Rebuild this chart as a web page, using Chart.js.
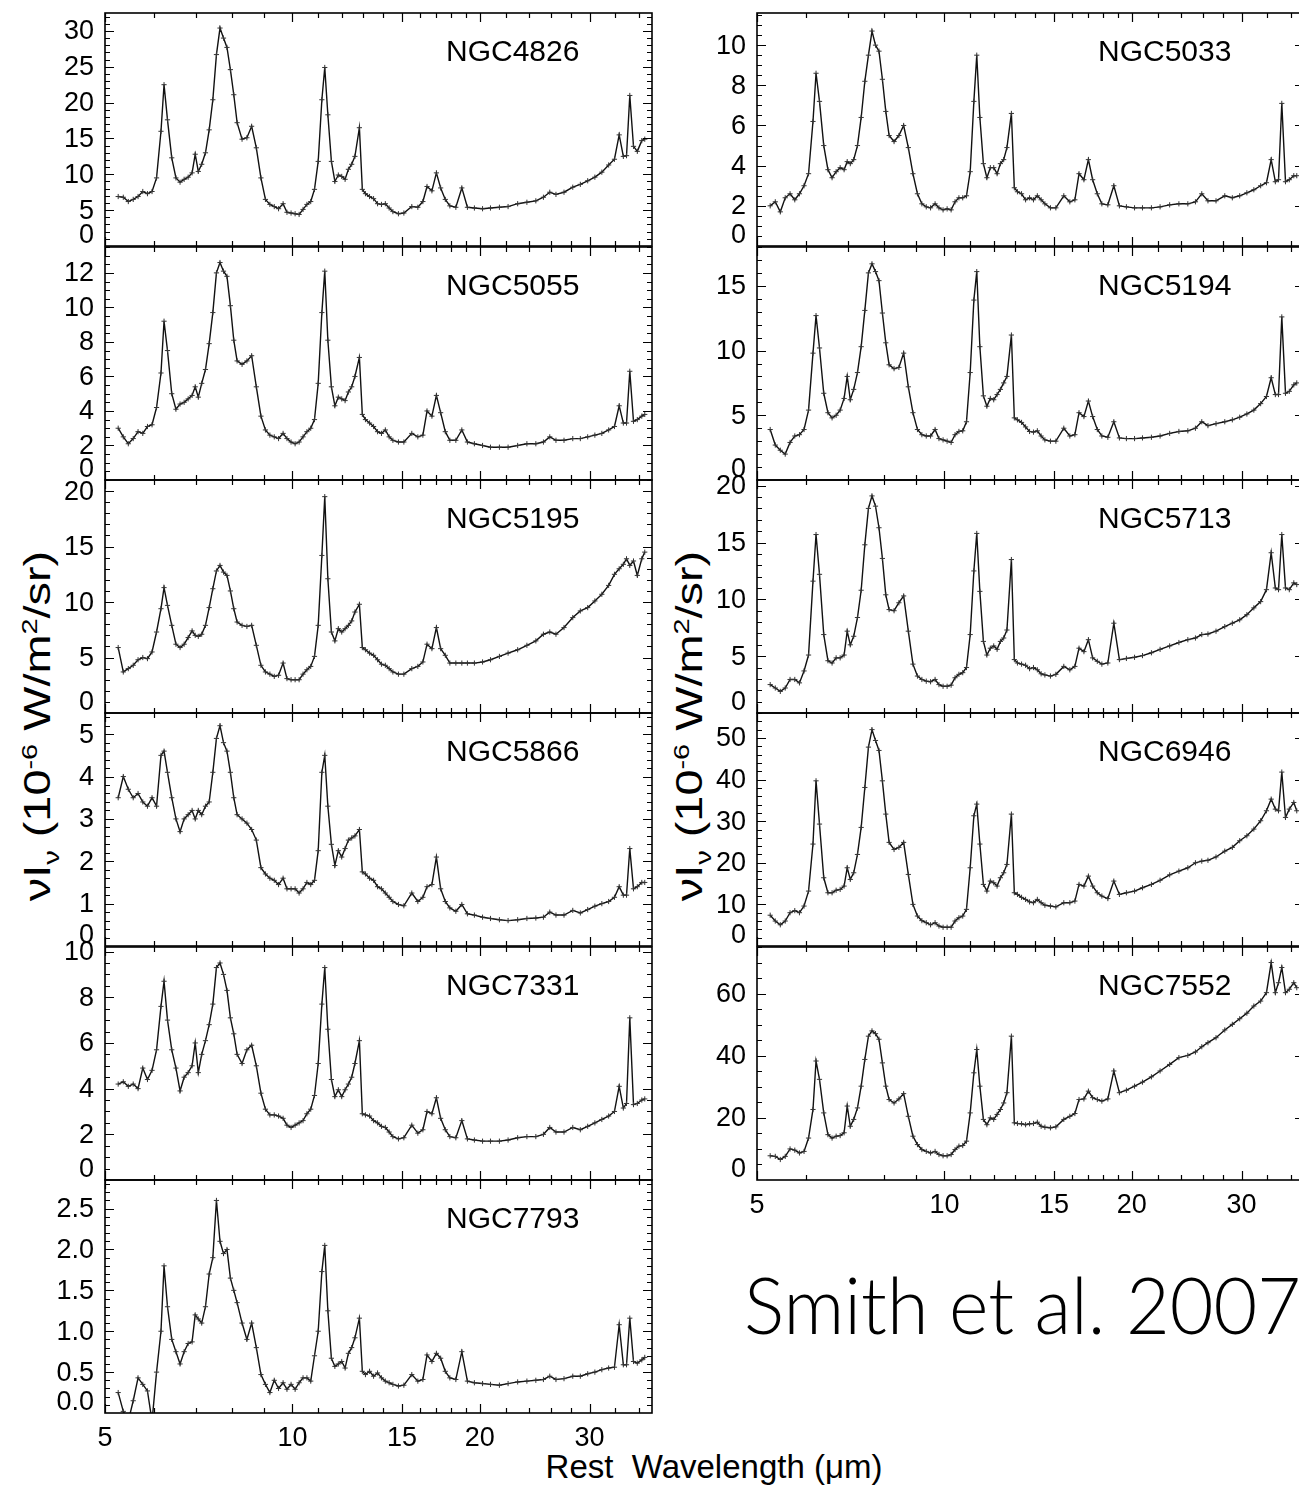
<!DOCTYPE html>
<html>
<head>
<meta charset="utf-8">
<script src="https://cdn.jsdelivr.net/npm/chart.js@4.4.0/dist/chart.umd.min.js"></script>
<style>
  body { margin: 0; background: #fff; width: 1299px; height: 1488px; position: relative; overflow: hidden;
         font-family: "Liberation Sans", Arial, sans-serif; color: #000; }
  canvas.panel { position: absolute; }
  .ytitle { position: absolute; white-space: nowrap; font-size: 36px;
            transform: translate(-50%, -50%) rotate(-90deg) scaleX(1.3); }
  .ytitle sub, .ytitle sup { font-size: 0.62em; }
  .xtitle { position: absolute; white-space: nowrap; font-size: 33px; transform: translateX(-50%); }
  .cite { position: absolute; white-space: nowrap; font-family: Lato, "Open Sans", sans-serif; font-weight: 300;
          font-size: 78px; line-height: 1; transform: scaleX(0.968); transform-origin: left top; }
</style>
</head>
<body>
<div class="ytitle" style="left:41px; top:726px;">νI<sub>ν</sub> (10<sup>-6</sup> W/m<sup>2</sup>/sr)</div>
<div class="ytitle" style="left:693px; top:726px;">νI<sub>ν</sub> (10<sup>-6</sup> W/m<sup>2</sup>/sr)</div>
<div class="xtitle" style="left:714px; top:1448px;">Rest&nbsp; Wavelength (μm)</div>
<div class="cite" style="left:744px; top:1265px;">Smith et al. 2007</div>

<script>
// ---- shared wavelength grid (micron) ----
const wave = [5.25, 5.35, 5.45, 5.55, 5.65, 5.75, 5.85, 5.95, 6.05, 6.15,
  6.22, 6.3, 6.4, 6.5, 6.6, 6.7, 6.8, 6.9, 6.98, 7.06,
  7.15, 7.25, 7.35, 7.45, 7.55, 7.65, 7.75, 7.85, 7.95, 8.05,
  8.15, 8.3, 8.45, 8.6, 8.75, 8.9, 9.05, 9.2, 9.35, 9.5,
  9.66, 9.8, 9.95, 10.1, 10.25, 10.4, 10.55, 10.7, 10.85, 11.0,
  11.15, 11.27, 11.4, 11.55, 11.7, 11.85, 12.0, 12.15, 12.3, 12.45,
  12.6, 12.81, 12.95, 13.1, 13.3, 13.5, 13.7, 13.9, 14.1, 14.3,
  14.5, 14.8, 15.1, 15.55, 15.9, 16.2, 16.45, 16.75, 17.03, 17.3,
  17.6, 17.9, 18.3, 18.71, 19.1, 19.6, 20.2, 20.8, 21.5, 22.2,
  23.0, 23.8, 24.6, 25.3, 25.9, 26.5, 27.3, 28.2, 29.0, 29.8,
  30.6, 31.4, 32.2, 32.9, 33.48, 34.0, 34.4, 34.82, 35.3, 35.8,
  36.4, 36.8];

// ---- spectra, nu I_nu in 1e-6 W/m2/sr ----
const ngc4826 = [6.9, 6.8, 6.2, 6.5, 6.9, 7.6, 7.3, 7.6, 9.5, 16,
  22.5, 17.6, 12.3, 9.5, 8.9, 9.3, 9.6, 10.2, 12.8, 10.4,
  11.4, 13, 16.2, 20.4, 26.7, 30.4, 29, 27.7, 24.6, 21.1,
  17.2, 14.9, 15.1, 16.7, 13.7, 9.5, 6.5, 5.8, 5.5, 5.2,
  5.9, 4.7, 4.6, 4.5, 4.4, 5.1, 5.8, 6.2, 7.9, 11.8,
  20.4, 24.9, 18.3, 11.8, 9.0, 9.9, 9.7, 9.3, 10.7, 11.4,
  12.5, 16.5, 7.9, 7.3, 6.9, 6.6, 5.9, 5.8, 5.9, 5.3,
  4.8, 4.5, 4.6, 5.5, 5.4, 6.2, 8.3, 7.7, 10.2, 8.1,
  6.5, 5.6, 5.4, 8.1, 5.4, 5.3, 5.2, 5.3, 5.4, 5.5,
  5.9, 6.1, 6.3, 6.8, 7.5, 7.2, 7.5, 8.2, 8.6, 9.1,
  9.6, 10.3, 11.3, 12.1, 15.5, 12.5, 12.6, 21, 13.9, 13.2,
  14.7, 14.9];

const ngc5055 = [3.0, 2.5, 2.1, 2.4, 2.8, 2.7, 3.1, 3.2, 4.2, 6.2,
  9.2, 7.5, 5.0, 4.1, 4.4, 4.5, 4.7, 4.9, 5.4, 4.8,
  5.6, 6.4, 7.9, 9.7, 12.0, 12.6, 12.1, 11.8, 10.1, 8.1,
  6.9, 6.7, 6.9, 7.2, 5.4, 3.7, 2.9, 2.6, 2.5, 2.4,
  2.7, 2.4, 2.2, 2.1, 2.2, 2.5, 2.8, 3.0, 3.5, 5.6,
  9.7, 12.1, 8.1, 5.4, 4.3, 4.8, 4.7, 4.6, 5.1, 5.4,
  6.0, 7.1, 3.8, 3.5, 3.3, 3.1, 2.8, 2.7, 2.9, 2.5,
  2.3, 2.2, 2.2, 2.7, 2.5, 2.6, 4.0, 3.7, 4.9, 3.9,
  2.8, 2.3, 2.3, 2.9, 2.2, 2.1, 2.0, 1.9, 1.9, 1.9,
  2.0, 2.1, 2.1, 2.2, 2.5, 2.3, 2.3, 2.4, 2.4, 2.5,
  2.6, 2.7, 2.9, 3.1, 4.3, 3.3, 3.3, 6.3, 3.4, 3.5,
  3.7, 3.8];

const ngc5195 = [5.9, 3.7, 4.0, 4.3, 4.8, 5.0, 4.9, 5.5, 7.3, 9.4,
  11.3, 9.7, 7.9, 6.2, 5.9, 6.2, 6.8, 7.4, 7.0, 6.9,
  7.1, 7.9, 9.5, 11.2, 12.8, 13.3, 12.7, 12.4, 11.0, 9.4,
  8.2, 7.9, 7.8, 7.9, 6.1, 4.3, 3.7, 3.5, 3.3, 3.4,
  4.5, 3.1, 3.0, 3.0, 3.0, 3.5, 3.9, 4.2, 5.1, 7.9,
  14.2, 19.5, 12.1, 7.3, 6.5, 7.6, 7.3, 7.6, 7.9, 8.3,
  9.1, 9.8, 5.9, 5.7, 5.4, 5.2, 4.8, 4.4, 4.3, 4.0,
  3.7, 3.5, 3.5, 4.0, 4.2, 4.6, 6.2, 5.8, 7.7, 5.8,
  5.2, 4.5, 4.5, 4.5, 4.5, 4.5, 4.6, 4.8, 5.1, 5.4,
  5.7, 6.1, 6.5, 7.1, 7.3, 7.1, 7.7, 8.6, 9.2, 9.5,
  10.1, 10.7, 11.5, 12.5, 13.0, 13.4, 13.9, 13.3, 13.7, 12.4,
  13.9, 14.5];

const ngc5866 = [3.5, 4.0, 3.7, 3.5, 3.6, 3.4, 3.3, 3.5, 3.3, 4.5,
  4.6, 4.1, 3.5, 3.0, 2.7, 3.0, 3.1, 3.2, 3.0, 3.2,
  3.1, 3.3, 3.4, 4.1, 4.9, 5.2, 4.8, 4.6, 4.1, 3.5,
  3.1, 3.0, 2.9, 2.75, 2.5, 1.85, 1.7, 1.6, 1.55, 1.45,
  1.6, 1.35, 1.35, 1.35, 1.25, 1.35, 1.5, 1.45, 1.55, 2.25,
  4.1, 4.5, 3.3, 2.4, 1.9, 2.25, 2.1, 2.3, 2.5, 2.55,
  2.6, 2.75, 1.75, 1.7, 1.6, 1.55, 1.4, 1.35, 1.25, 1.15,
  1.05, 0.98, 0.95, 1.25, 1.05, 1.15, 1.4, 1.45, 2.1, 1.35,
  1.05, 0.9, 0.82, 0.98, 0.76, 0.73, 0.68, 0.65, 0.62, 0.6,
  0.62, 0.65, 0.66, 0.68, 0.8, 0.73, 0.73, 0.84, 0.78, 0.86,
  0.94, 1.0, 1.05, 1.15, 1.4, 1.2, 1.2, 2.3, 1.35, 1.4,
  1.5, 1.5];

const ngc7331 = [4.2, 4.3, 4.1, 4.2, 4.0, 4.9, 4.4, 4.8, 5.7, 7.6,
  8.7, 7.0, 5.7, 4.9, 3.9, 4.5, 4.7, 5.0, 6.0, 4.7,
  5.5, 6.1, 6.8, 7.7, 9.3, 9.5, 9.0, 8.3, 7.1, 6.4,
  5.5, 5.1, 5.7, 5.9, 5.0, 3.8, 3.1, 2.85, 2.85, 2.8,
  2.7, 2.4, 2.3, 2.4, 2.5, 2.6, 2.9, 3.1, 3.7, 5.1,
  7.7, 9.3, 6.6, 4.4, 3.65, 3.95, 3.65, 3.95, 4.2, 4.5,
  5.1, 6.1, 2.9, 2.85, 2.8, 2.6, 2.5, 2.35, 2.3, 2.1,
  1.9, 1.8, 1.85, 2.4, 2.05, 2.2, 3.0, 2.9, 3.6, 2.7,
  2.2, 1.9, 1.85, 2.6, 1.8, 1.75, 1.7, 1.7, 1.7, 1.75,
  1.85, 1.9, 1.9, 2.0, 2.3, 2.1, 2.1, 2.3, 2.2, 2.35,
  2.5, 2.65, 2.8, 3.0, 4.1, 3.15, 3.35, 7.1, 3.3, 3.35,
  3.5, 3.55];

const ngc7793 = [0.25, 0.02, -0.1, 0.15, 0.43, 0.35, 0.27, -0.1, 0.5, 1.0,
  1.8, 1.3, 0.9, 0.75, 0.6, 0.75, 0.85, 0.87, 1.2, 1.15,
  1.1, 1.3, 1.7, 1.9, 2.6, 2.1, 1.95, 2.0, 1.65, 1.5,
  1.35, 1.1, 0.9, 1.1, 0.8, 0.47, 0.35, 0.25, 0.4, 0.3,
  0.37, 0.29, 0.35, 0.29, 0.37, 0.43, 0.43, 0.39, 0.7, 1.0,
  1.73, 2.05, 1.25, 0.67, 0.57, 0.6, 0.63, 0.55, 0.73, 0.8,
  0.92, 1.16, 0.51, 0.47, 0.51, 0.45, 0.49, 0.43, 0.39, 0.37,
  0.35, 0.33, 0.34, 0.47, 0.39, 0.41, 0.71, 0.63, 0.73, 0.67,
  0.51, 0.43, 0.41, 0.75, 0.39, 0.37, 0.36, 0.35, 0.34, 0.36,
  0.38, 0.39, 0.4, 0.41, 0.45, 0.41, 0.42, 0.45, 0.45, 0.48,
  0.5, 0.53, 0.55, 0.56, 1.08, 0.59, 0.59, 1.16, 0.63, 0.61,
  0.65, 0.68];

const ngc5033 = [2.0, 2.2, 1.7, 2.4, 2.6, 2.3, 2.6, 3.0, 3.6, 6.2,
  8.6, 7.2, 5.0, 3.8, 3.4, 3.7, 3.9, 3.8, 4.2, 4.1,
  4.3, 5.0, 6.4, 8.2, 9.5, 10.7, 10.0, 9.7, 8.3, 6.7,
  5.5, 5.2, 5.5, 6.0, 4.9, 3.6, 2.6, 2.1, 1.95, 1.9,
  2.1, 1.9, 1.8, 1.85, 1.8, 2.2, 2.4, 2.4, 2.5, 3.7,
  7.2, 9.5, 6.4, 4.1, 3.4, 3.9, 3.9, 3.6, 4.1, 4.3,
  4.9, 6.6, 2.9, 2.7, 2.6, 2.3, 2.4, 2.3, 2.5, 2.3,
  2.1, 1.9, 1.9, 2.5, 2.2, 2.3, 3.6, 3.3, 4.3, 3.3,
  2.6, 2.1, 2.05, 3.0, 2.0, 1.95, 1.9, 1.9, 1.9, 1.95,
  2.05, 2.1, 2.1, 2.2, 2.6, 2.25, 2.25, 2.5, 2.4, 2.5,
  2.65, 2.8, 3.0, 3.15, 4.3, 3.2, 3.3, 7.1, 3.2, 3.3,
  3.5, 3.5];

const ngc5194 = [3.9, 2.7, 2.3, 2.0, 2.9, 3.4, 3.5, 3.9, 5.4, 9.8,
  12.7, 10.2, 6.7, 5.2, 4.8, 5.0, 5.4, 6.3, 8.0, 6.2,
  7.0, 8.3, 10.3, 13.1, 16.0, 16.7, 16.1, 15.4, 12.9, 10.6,
  8.9, 8.6, 8.7, 9.8, 7.2, 5.2, 3.9, 3.5, 3.4, 3.4,
  3.9, 3.2, 3.1, 3.0, 2.9, 3.5, 3.75, 3.8, 4.5, 8.3,
  13.9, 16.1, 10.3, 6.5, 5.7, 6.3, 6.2, 6.6, 7.0, 7.5,
  8.0, 11.2, 4.8, 4.65, 4.45, 4.1, 3.75, 3.7, 3.8, 3.4,
  3.1, 3.0, 3.0, 4.0, 3.4, 3.5, 5.2, 4.9, 6.1, 4.9,
  3.9, 3.4, 3.3, 4.5, 3.25, 3.2, 3.2, 3.25, 3.3, 3.4,
  3.6, 3.75, 3.8, 4.0, 4.5, 4.2, 4.35, 4.5, 4.65, 4.85,
  5.1, 5.4, 5.9, 6.45, 7.9, 6.6, 6.6, 12.6, 6.7, 6.85,
  7.35, 7.5];

const ngc5713 = [2.5, 2.2, 1.9, 2.2, 2.95, 2.95, 2.65, 3.7, 5.1, 11.6,
  15.7, 12.2, 6.9, 4.6, 4.4, 4.85, 4.85, 5.1, 7.2, 6.0,
  6.75, 8.4, 10.8, 14.8, 18.0, 19.1, 18.2, 16.3, 13.6, 10.4,
  9.1, 9.0, 9.7, 10.3, 7.2, 4.3, 3.25, 2.95, 2.8, 2.75,
  2.95, 2.5, 2.35, 2.35, 2.45, 3.1, 3.4, 3.55, 4.0, 6.9,
  12.5, 15.8, 10.7, 6.3, 5.1, 5.7, 5.9, 5.6, 6.3, 6.6,
  7.3, 13.5, 4.7, 4.4, 4.3, 4.2, 3.9, 4.0, 3.8, 3.45,
  3.35, 3.25, 3.4, 4.1, 3.8, 4.1, 5.7, 5.4, 6.45, 4.85,
  4.55, 4.3, 4.4, 7.9, 4.7, 4.8, 4.9, 5.05, 5.3, 5.6,
  5.9, 6.2, 6.45, 6.6, 6.9, 6.95, 7.2, 7.6, 7.9, 8.2,
  8.65, 9.25, 9.8, 10.85, 14.1, 11.0, 10.85, 15.7, 11.0, 10.85,
  11.45, 11.3];

const ngc6946 = [7.4, 6.0, 5.1, 6.0, 8.0, 8.5, 8.0, 9.6, 13.2, 24.5,
  39.7, 29.3, 16.4, 12.8, 12.8, 13.4, 13.6, 14.4, 18.8, 16.0,
  17.6, 22.0, 28.5, 38.1, 47.8, 52.0, 49.4, 47.0, 39.7, 31.7,
  24.9, 23.2, 23.7, 24.9, 17.2, 10.0, 7.2, 6.1, 5.6, 5.1,
  5.6, 4.8, 4.5, 4.5, 4.5, 6.0, 6.8, 7.2, 8.8, 18.8,
  31.3, 34.1, 24.5, 14.8, 13.2, 15.6, 15.2, 14.4, 16.4, 17.6,
  19.6, 31.7, 12.8, 12.4, 11.7, 11.2, 10.6, 10.4, 11.2, 10.4,
  9.8, 9.6, 9.4, 10.4, 10.4, 10.8, 14.8, 14.4, 16.8, 14.4,
  12.8, 12.0, 11.4, 15.6, 12.4, 12.8, 13.2, 14.0, 14.8, 15.8,
  17.1, 18.0, 18.8, 20.0, 20.4, 20.6, 21.4, 22.8, 23.7, 25.3,
  26.5, 28.1, 30.1, 32.5, 35.3, 32.9, 32.5, 41.8, 30.9, 32.9,
  34.5, 32.5];

const ngc7552 = [7.8, 7.6, 6.6, 7.6, 10.0, 9.6, 8.7, 9.2, 13.5, 22.7,
  38.3, 32.4, 21.6, 14.6, 13.5, 14.1, 14.3, 15.2, 23.8, 17.3,
  19.5, 23.2, 30.2, 38.8, 46.3, 48.0, 47.1, 45.3, 37.7, 30.2,
  25.9, 24.8, 26.1, 27.8, 20.5, 14.1, 11.4, 9.8, 9.2, 8.7,
  9.2, 8.2, 7.8, 7.8, 8.2, 9.8, 10.9, 11.1, 12.5, 21.6,
  34.5, 42.0, 30.2, 19.5, 17.8, 20.0, 19.5, 21.1, 22.7, 24.8,
  28.1, 46.3, 18.4, 18.2, 18.1, 17.8, 18.1, 18.2, 18.6, 17.3,
  17.0, 16.8, 17.1, 19.5, 20.5, 21.4, 25.9, 26.1, 28.6, 26.5,
  25.9, 25.4, 26.1, 35.1, 28.1, 28.9, 30.2, 31.5, 33.2, 35.1,
  37.2, 39.4, 40.1, 41.2, 42.9, 44.2, 45.8, 48.3, 50.1, 51.9,
  53.7, 56.0, 57.6, 60.3, 70.0, 60.3, 63.5, 68.4, 60.3, 61.4,
  63.5, 61.9];

// x axis ticks
const xLabels = [5, 10, 15, 20, 30];
const xMinor = [6, 7, 8, 9, 11, 12, 13, 14, 16, 17, 18, 19, 22, 24, 26, 28, 33, 36];

// panel table: name, series, y max, labelled step, minor step
const leftPanels = [
  ['NGC4826', ngc4826, 32.5, 5, 1],
  ['NGC5055', ngc5055, 13.5, 2, 0.5],
  ['NGC5195', ngc5195, 21, 5, 1],
  ['NGC5866', ngc5866, 5.5, 1, 0.2],
  ['NGC7331', ngc7331, 10.2, 2, 0.5],
  ['NGC7793', ngc7793, 2.85, 0.5, 0.1]
];
const rightPanels = [
  ['NGC5033', ngc5033, 11.6, 2, 0.5],
  ['NGC5194', ngc5194, 18, 5, 1],
  ['NGC5713', ngc5713, 20.5, 5, 1],
  ['NGC6946', ngc6946, 56, 10, 2],
  ['NGC7552', ngc7552, 75, 20, 5]
];

const rowEdges = [13, 246.5, 480, 713, 946.5, 1180, 1413];
const PAD_L = 80, PAD_R = 6, PAD_T = 12;
const X_MAX = 37.8;

// frame, ticks and labels (IDL look)
const framePlugin = {
  id: 'frame',
  afterDraw(chart, args, o) {
    const { ctx, chartArea: a, scales: { x, y } } = chart;
    ctx.save();
    ctx.strokeStyle = '#000';
    ctx.lineWidth = 1.2;
    ctx.beginPath();
    xLabels.forEach(v => {
      const px = Math.round(x.getPixelForValue(v)) + 0.5;
      ctx.moveTo(px, a.bottom); ctx.lineTo(px, a.bottom - 9);
      ctx.moveTo(px, a.top); ctx.lineTo(px, a.top + 9);
    });
    xMinor.forEach(v => {
      const px = Math.round(x.getPixelForValue(v)) + 0.5;
      ctx.moveTo(px, a.bottom); ctx.lineTo(px, a.bottom - 5);
      ctx.moveTo(px, a.top); ctx.lineTo(px, a.top + 5);
    });
    const nMin = Math.floor(o.ymax / o.minor + 1e-6);
    for (let i = 1; i <= nMin; i++) {
      const v = i * o.minor;
      const major = Math.abs(v / o.step - Math.round(v / o.step)) < 1e-6;
      const len = major ? 9 : 5;
      const py = Math.round(y.getPixelForValue(v)) + 0.5;
      ctx.moveTo(a.left, py); ctx.lineTo(a.left + len, py);
      ctx.moveTo(a.right, py); ctx.lineTo(a.right - len, py);
    }
    ctx.stroke();
    ctx.lineWidth = 1.6;
    ctx.strokeRect(a.left, a.top, a.right - a.left, a.bottom - a.top);

    ctx.fillStyle = '#000';
    ctx.font = '27px "Liberation Sans", Arial, sans-serif';
    ctx.textAlign = 'right';
    const nMaj = Math.floor(o.ymax / o.step + 1e-6);
    for (let i = 0; i <= nMaj; i++) {
      const v = i * o.step;
      const txt = o.step < 1 ? v.toFixed(1) : String(v);
      if (i === 0) {
        ctx.textBaseline = 'alphabetic';
        ctx.fillText(txt, a.left - 11, a.bottom - 3);
      } else {
        ctx.textBaseline = 'middle';
        ctx.fillText(txt, a.left - 11, y.getPixelForValue(v) + 1);
      }
    }
    if (o.showX) {
      ctx.textAlign = 'center';
      ctx.textBaseline = 'top';
      xLabels.forEach(v => ctx.fillText(String(v), x.getPixelForValue(v), a.bottom + 12));
    }
    ctx.font = '30px "Liberation Sans", Arial, sans-serif';
    ctx.textAlign = 'left';
    ctx.textBaseline = 'alphabetic';
    ctx.fillText(o.name, a.left + 341, a.top + 48);
    ctx.restore();
  }
};

function makePanel(p, left, width, row, isBottom) {
  const [name, series, ymax, step, minor] = p;
  const top = rowEdges[row], bottom = rowEdges[row + 1];
  const padB = isBottom ? 60 : 12;
  const canvas = document.createElement('canvas');
  canvas.className = 'panel';
  canvas.width = PAD_L + width + PAD_R;
  canvas.height = PAD_T + (bottom - top) + padB;
  canvas.style.left = (left - PAD_L) + 'px';
  canvas.style.top = (top - PAD_T) + 'px';
  document.body.appendChild(canvas);

  new Chart(canvas, {
    type: 'line',
    data: {
      datasets: [{
        data: wave.map((w, i) => ({ x: w, y: series[i] })),
        borderColor: '#111',
        borderWidth: 1.4,
        pointStyle: 'cross',
        pointRadius: 2.6,
        pointBorderWidth: 1,
        pointBorderColor: '#333',
        tension: 0
      }]
    },
    options: {
      responsive: false,
      animation: false,
      events: [],
      layout: { padding: { left: PAD_L, right: PAD_R, top: PAD_T, bottom: padB } },
      scales: {
        x: { type: 'logarithmic', min: 5, max: X_MAX, display: false },
        y: { type: 'linear', min: 0, max: ymax, display: false }
      },
      plugins: {
        legend: { display: false },
        tooltip: { enabled: false },
        frame: { name, ymax, step, minor, showX: isBottom }
      }
    },
    plugins: [framePlugin]
  });
}

leftPanels.forEach((p, i) => makePanel(p, 105, 547, i, i === leftPanels.length - 1));
rightPanels.forEach((p, i) => makePanel(p, 757, 547, i, i === rightPanels.length - 1));
</script>
</body>
</html>
